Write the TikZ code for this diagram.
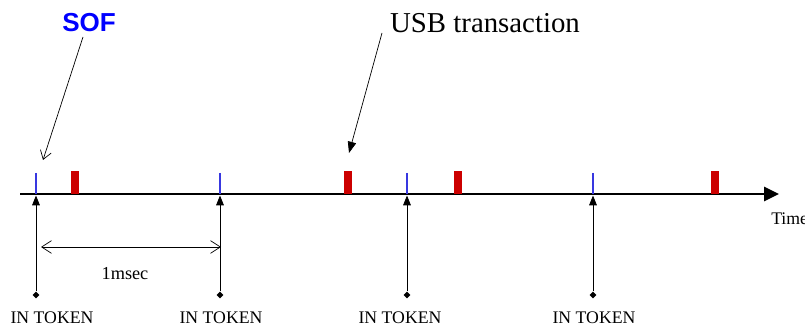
\documentclass[tikz,border=0pt]{standalone}
\usepackage{fontspec}
\setmainfont{Liberation Serif}
\newfontfamily\soffont{Liberation Sans}
\usetikzlibrary{arrows.meta,positioning,calc,shapes.geometric}
\definecolor{sofblue}{HTML}{3838E0}
\definecolor{usbred}{HTML}{CC0000}

\begin{document}
\begin{tikzpicture}[x=0.025cm,y=-0.025cm,
    lbl/.style={font=\fontsize{12.6}{14}\selectfont,inner sep=0pt},
    sofmark/.style={draw=sofblue,line width=1.2pt},
    usbmark/.style={fill=usbred},
    tokdot/.style={diamond,fill=black,inner sep=0pt,minimum size=5pt},
    tokarrow/.style={line width=0.6pt,-{Triangle[width=5.5pt,length=7pt]}}]
  \useasboundingbox (0,0) rectangle (805,327);
  % time axis
  \coordinate (a0) at (20,194);
  \coordinate (a1) at (779,194);
  \draw[line width=1.4pt,-{Triangle[width=10pt,length=10.5pt]}] (a0) -- (a1);
  \node[lbl,anchor=base west] (time) at (771,225) {Time};
  % SOF ticks and IN TOKEN arrows
  \foreach \x/\lx [count=\i] in {36/52,220/221,407/400,593/594} {
    \draw[sofmark] (\x,173) -- (\x,194);
    \coordinate (s\i) at (\x,195.5);
    \node[tokdot] (d\i) at (\x,295) {};
    \draw[tokarrow] (d\i) -- (s\i);
    \node[lbl,anchor=base] (tok\i) at (\lx,324) {IN TOKEN};
  }
  % USB transactions
  \foreach \x in {71,344,454,711}
    \fill[usbmark] (\x,171) rectangle ++(8,23);
  % 1msec
  \coordinate (m0) at (41,247);
  \coordinate (m1) at (221,247);
  \draw[line width=0.5pt,{Straight Barb[length=7pt,width=9pt]}-{Straight Barb[length=7pt,width=9pt]}] (m0) -- (m1);
  \node[lbl,font=\fontsize{13}{15}\selectfont,anchor=base] (ms) at (125,280) {1msec};
  % labels with pointers
  \node[inner sep=0pt,anchor=base,text=blue,font=\soffont\bfseries\fontsize{18.5}{20}\selectfont] (sof) at (89,32) {SOF};
  \coordinate (sofend) at (43,160);
  \draw[line width=0.5pt,-{Straight Barb[length=6pt,width=8pt]}] ([shift={(-6,5)}]sof.base) -- (sofend);
  \node[inner sep=0pt,anchor=base,font=\fontsize{20.5}{23}\selectfont] (usb) at (485,33) {USB transaction};
  \coordinate (usbend) at (349,153);
  \draw[line width=0.5pt,-{Triangle[width=6pt,length=8pt]}] ([shift={(-103,0)}]usb.base) -- (usbend);
\end{tikzpicture}
\end{document}
